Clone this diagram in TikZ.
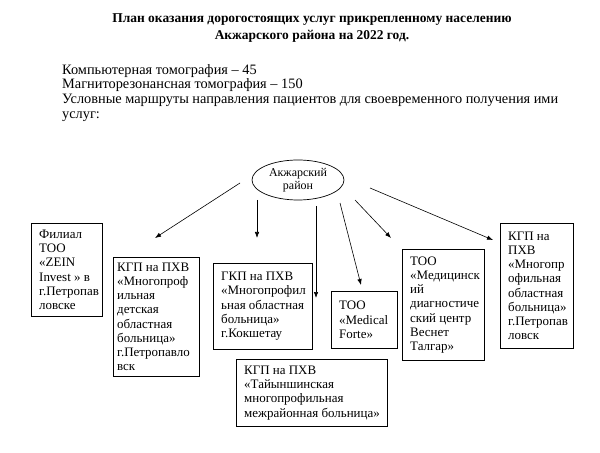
\documentclass[tikz,border=0pt]{standalone}
\usepackage{fontspec}
\setmainfont{Liberation Serif}
\usetikzlibrary{arrows.meta,shapes.geometric}
\begin{document}
\begin{tikzpicture}[x=1bp,y=-1bp,
  box/.style={draw, line width=0.7pt, anchor=north west, inner sep=0pt},
  boxtext/.style={anchor=west, align=left, inner sep=0pt, font=\fontsize{13}{14.3}\selectfont},
  arr/.style={line width=0.6pt, -{Latex[length=6bp,width=4.5bp]}},
]
\useasboundingbox (0,0) rectangle (600,453);

\node[font=\bfseries\fontsize{13.5}{16.5}\selectfont, align=center] (title) at (312,28)
  {План оказания дорогостоящих услуг прикрепленному населению\\Акжарского района на 2022 год.};

\node[anchor=north west, text width=496bp, align=justify, inner sep=0pt, font=\fontsize{14.4}{14.7}\selectfont] (para) at (62,64)
  {Компьютерная томография – 45\\Магниторезонансная томография – 150\\Условные маршруты направления пациентов для своевременного получения ими\linebreak услуг:};

\node[ellipse, draw, line width=0.7pt, minimum width=92bp, minimum height=40bp, inner sep=0pt, align=center, font=\fontsize{12}{13.3}\selectfont] (e) at (298,180) {Акжарский\\район};

\node[box, minimum width=71bp, minimum height=93bp] (a) at (31,223) {};
\node[boxtext] (at) at ([xshift=8bp]a.west)
  {Филиал\\ТОО\\«ZEIN\\Invest » в\\г.Петропав\\ловске};
\node[box, minimum width=86bp, minimum height=119bp] (b) at (113,257) {};
\node[boxtext] (bt) at ([xshift=4bp]b.west)
  {КГП на ПХВ\\«Многопроф\\ильная\\детская\\областная\\больница»\\г.Петропавло\\вск};
\node[box, minimum width=99bp, minimum height=86bp] (c) at (213,263) {};
\node[boxtext] (ct) at ([xshift=8bp]c.west)
  {ГКП на ПХВ\\«Многопрофил\\ьная областная\\больница»\\г.Кокшетау};
\node[box, minimum width=66bp, minimum height=57bp] (d) at (331,291) {};
\node[boxtext] (dt) at ([xshift=8bp]d.west)
  {ТОО\\«Medical\\Forte»};
\node[box, minimum width=151bp, minimum height=67bp] (ee) at (236,359) {};
\node[boxtext] (eet) at ([xshift=8bp]ee.west)
  {КГП на ПХВ\\«Тайыншинская\\многопрофильная\\межрайонная больница»};
\node[box, minimum width=82bp, minimum height=111bp] (f) at (402,249) {};
\node[boxtext] (ft) at ([xshift=8bp]f.west)
  {ТОО\\«Медицинск\\ий\\диагностиче\\ский центр\\Веснет\\Талгар»};
\node[box, minimum width=73bp, minimum height=125bp] (g) at (500,223) {};
\node[boxtext] (gt) at ([xshift=8bp]g.west)
  {КГП на\\ПХВ\\«Многопр\\офильная\\областная\\больница»\\г.Петропав\\ловск};

\coordinate (s1) at (240,183); \coordinate (t1) at (155,238);
\coordinate (s2) at (257,200); \coordinate (t2) at (257,238);
\coordinate (s3) at (316,206); \coordinate (t3) at (316,298);
\coordinate (s4) at (340,203); \coordinate (t4) at (361,285);
\coordinate (s5) at (355,200); \coordinate (t5) at (391,238);
\coordinate (s6) at (370,188); \coordinate (t6) at (493,240);

\draw[arr] (s1) -- (t1);
\draw[arr] (s2) -- (t2);
\draw[arr] (s3) -- (t3);
\draw[arr] (s4) -- (t4);
\draw[arr] (s5) -- (t5);
\draw[arr] (s6) -- (t6);
\end{tikzpicture}
\end{document}
